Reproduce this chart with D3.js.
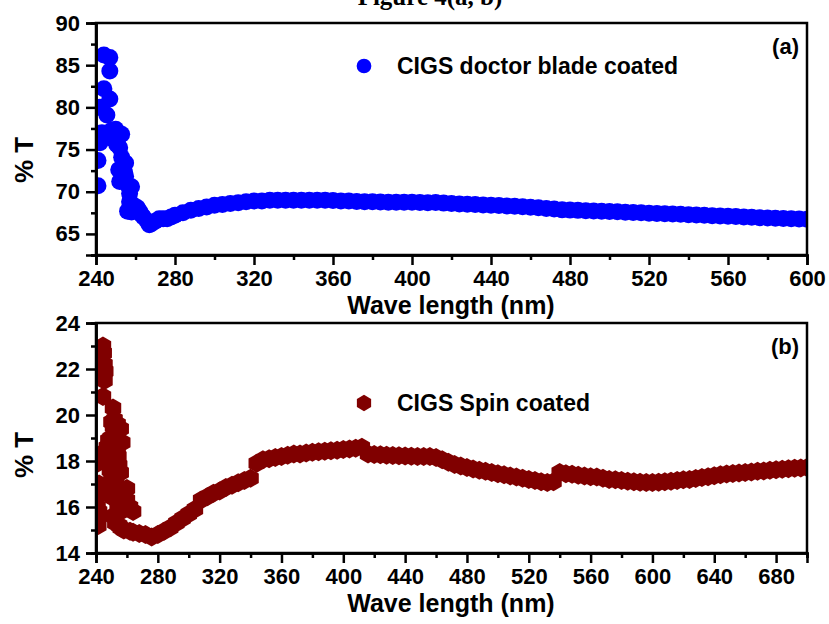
<!doctype html>
<html>
<head>
<meta charset="utf-8">
<script src="https://d3js.org/d3.v7.min.js"></script>
<style>
  body { margin: 0; background: #fff; }
  svg { display: block; font-family: "Liberation Sans", Arial, sans-serif; font-weight: bold; }
  .axis path, .axis line { stroke: #000; stroke-width: 2.5; }
  .axis text { font-size: 22px; font-weight: bold; fill: #000; font-family: "Liberation Sans", Arial, sans-serif; }
</style>
</head>
<body>
<div class="graph"></div>
<script>
// ---- data ----
// (a) CIGS doctor blade coated
var topWl = [241, 241, 242, 243, 242, 244, 244, 247, 247, 247, 245.5, 248, 250, 251, 252, 253, 254, 252, 255, 256, 257, 257, 256, 258, 260, 262, 264, 266, 267, 268, 270, 272, 274, 276, 278, 280,
  249, 250.5, 253, 254.5, 251.5, 255, 258, 259, 261, 263,
  284, 288, 292, 296, 300, 304, 308, 312, 316, 320, 324, 328, 332, 336, 340, 344, 348, 352, 356, 360, 364, 368, 372, 376, 380, 384, 388, 392, 396, 400,
  404, 408, 412, 416, 420, 424, 428, 432, 436, 440, 444, 448, 452, 456, 460, 464, 468, 472, 476, 480, 484, 488, 492, 496, 500,
  504, 508, 512, 516, 520, 524, 528, 532, 536, 540, 544, 548, 552, 556, 560, 564, 568, 572, 576, 580, 584, 588, 592, 596, 600];
var topT = [70.7, 73.7, 75.8, 77.0, 80.0, 82.2, 86.2, 85.9, 84.3, 81.0, 79.1, 77.3, 77.4, 76.3, 75.2, 74.1, 73.0, 71.2, 71.8, 70.8, 69.8, 68.8, 67.7, 67.6, 67.8, 67.7, 67.0, 66.5, 66.1, 66.2, 66.5, 66.8, 66.8, 66.8, 67.0, 67.2,
  76.2, 75.6, 76.8, 72.3, 72.6, 73.4, 70.6, 68.4, 68.1, 67.3,
  67.5, 67.8, 68.0, 68.2, 68.4, 68.5, 68.6, 68.7, 68.8, 68.9, 68.9, 69.0, 69.0, 69.0, 69.0, 69.0, 69.0, 69.0, 69.0, 68.95, 68.9, 68.9, 68.85, 68.8, 68.8, 68.78, 68.76, 68.75, 68.75, 68.75,
  68.72, 68.7, 68.72, 68.65, 68.6, 68.56, 68.52, 68.48, 68.44, 68.4, 68.36, 68.32, 68.27, 68.22, 68.16, 68.1, 68.02, 67.94, 67.85, 67.82, 67.79, 67.75, 67.72, 67.69, 67.65,
  67.62, 67.58, 67.55, 67.5, 67.46, 67.43, 67.4, 67.36, 67.32, 67.28, 67.24, 67.2, 67.16, 67.12, 67.09, 67.05, 67.01, 66.97, 66.93, 66.9, 66.86, 66.82, 66.79, 66.76, 66.73];

// (b) CIGS Spin coated
var botWl = [244.5, 245, 245.5, 246, 245.5, 244.5, 251, 250, 251, 252, 253, 254, 254.5, 256, 242, 241, 241, 241, 241, 243, 248, 249, 250, 252, 253.5, 257, 260, 262, 264, 251, 252.5, 255, 256, 258, 262, 264, 268, 272, 276,
  247, 248, 250, 252, 255, 256, 253, 251, 254, 256, 258, 260, 242, 243, 242, 242, 242, 241.5, 249.5, 252, 254, 257,
  280, 284, 288, 292, 296, 300, 304, 308, 312, 316, 320, 324, 328, 332, 336, 340, 344, 348, 352, 356, 360, 364, 368, 372, 376, 380, 384, 388, 392, 396, 400,
  404, 408, 412, 416, 420, 424, 428, 432, 436, 440, 444, 448, 452, 456, 460, 464, 468, 472, 476, 480, 484, 488, 492, 496, 500,
  504, 508, 512, 516, 520, 524, 528, 532, 536, 540, 544, 548, 552, 556, 560, 564, 568, 572, 576, 580, 584, 588, 592, 596, 600,
  604, 608, 612, 616, 620, 624, 628, 632, 636, 640, 644, 648, 652, 656, 660, 664, 668, 672, 676, 680, 684, 688, 692, 696, 700];
var botT = [23.0, 22.7, 22.2, 21.9, 21.5, 20.8, 20.3, 19.7, 19.5, 19.2, 18.9, 18.5, 18.2, 19.4, 18.2, 17.9, 16.8, 16.0, 15.4, 16.8, 18.0, 17.6, 17.3, 16.8, 16.5, 16.6, 16.3, 16.0, 15.8, 15.6, 15.3, 15.2, 15.1, 15.0, 14.95, 14.9, 14.85, 14.8, 14.7,
  18.6, 18.9, 18.5, 18.0, 17.8, 17.5, 17.0, 16.4, 16.0, 15.8, 16.4, 16.8, 18.0, 18.3, 17.0, 16.5, 15.8, 15.2, 19.0, 19.8, 19.6, 18.8,
  14.8, 14.95, 15.1, 15.3, 15.5, 15.7, 15.9, 16.3, 16.45, 16.6, 16.7, 16.85, 16.95, 17.05, 17.15, 17.25, 17.9, 18.05, 18.1, 18.15, 18.2, 18.25, 18.3, 18.3, 18.35, 18.38, 18.4, 18.42, 18.45, 18.47, 18.5,
  18.52, 18.55, 18.6, 18.3, 18.28, 18.27, 18.25, 18.24, 18.23, 18.22, 18.21, 18.2, 18.2, 18.2, 18.15, 18.05, 17.95, 17.85, 17.78, 17.72, 17.65, 17.6, 17.55, 17.5, 17.45,
  17.4, 17.35, 17.3, 17.25, 17.2, 17.15, 17.1, 17.07, 17.1, 17.5, 17.45, 17.42, 17.38, 17.35, 17.32, 17.3, 17.25, 17.2, 17.18, 17.15, 17.12, 17.1, 17.08, 17.06, 17.06,
  17.08, 17.1, 17.12, 17.15, 17.18, 17.2, 17.24, 17.28, 17.32, 17.36, 17.4, 17.43, 17.46, 17.48, 17.5, 17.52, 17.55, 17.57, 17.6, 17.62, 17.64, 17.66, 17.68, 17.7, 17.72];

var topXTicks = [240, 280, 320, 360, 400, 440, 480, 520, 560, 600];
var topYTicks = [65, 70, 75, 80, 85, 90];
var botXTicks = [240, 280, 320, 360, 400, 440, 480, 520, 560, 600, 640, 680];
var botYTicks = [14, 16, 18, 20, 22, 24];

var width = 829, height = 624;

var svg = d3.select('.graph').append('svg')
  .attr('width', width)
  .attr('height', height);

// caption, cut off at the top of the picture
svg.append('text')
  .attr('x', 430).attr('y', 5)
  .attr('text-anchor', 'middle')
  .style('font-family', '"Liberation Serif", "Times New Roman", serif')
  .style('font-size', '25px')
  .text('Figure 4(a, b)');

// hexagon symbol (pointy top)
var hexagon = {
  draw: function(ctx, size) {
    var r = Math.sqrt(size * 2 / (3 * Math.sqrt(3)));
    for (var k = 0; k < 6; k++) {
      var a = Math.PI / 3 * k - Math.PI / 2;
      if (k === 0) ctx.moveTo(r * Math.cos(a), r * Math.sin(a));
      else ctx.lineTo(r * Math.cos(a), r * Math.sin(a));
    }
    ctx.closePath();
  }
};

function panel(o) {
  var x = d3.scaleLinear().domain(o.xDomain).range([96, 807]);
  var y = d3.scaleLinear().domain(o.yDomain).range([o.bottom, o.top]);

  var g = svg.append('g');

  g.append('clipPath').attr('id', o.id)
    .append('rect')
    .attr('x', x.range()[0]).attr('y', o.top)
    .attr('width', x.range()[1] - x.range()[0])
    .attr('height', o.bottom - o.top);

  // markers
  var pts = o.wl.map(function(w, i) { return [w, o.val[i]]; });
  var sym = d3.symbol().type(o.shape).size(o.size);
  g.append('g').attr('clip-path', 'url(#' + o.id + ')')
    .selectAll('path')
    .data(pts)
    .enter()
    .append('path')
    .attr('d', sym)
    .attr('transform', function(d) { return 'translate(' + x(d[0]) + ',' + y(d[1]) + ')'; })
    .style('fill', o.color);

  // frame
  g.append('rect')
    .attr('x', x.range()[0]).attr('y', o.top)
    .attr('width', x.range()[1] - x.range()[0])
    .attr('height', o.bottom - o.top)
    .style('fill', 'none').style('stroke', '#000').style('stroke-width', 2.5);

  // minor ticks
  g.append('g').attr('class', 'axis')
    .attr('transform', 'translate(0,' + o.bottom + ')')
    .call(d3.axisBottom(x).tickValues(o.xMinor).tickSize(5).tickFormat(''));
  g.append('g').attr('class', 'axis')
    .attr('transform', 'translate(' + x.range()[0] + ',0)')
    .call(d3.axisLeft(y).tickValues(o.yMinor).tickSize(5).tickFormat(''));

  // major ticks
  g.append('g').attr('class', 'axis')
    .attr('transform', 'translate(0,' + o.bottom + ')')
    .call(d3.axisBottom(x).tickValues(o.xTicks).tickSize(10).tickPadding(5).tickFormat(d3.format('d')));
  g.append('g').attr('class', 'axis')
    .attr('transform', 'translate(' + x.range()[0] + ',0)')
    .call(d3.axisLeft(y).tickValues(o.yTicks).tickSize(10).tickPadding(6).tickFormat(d3.format('d')));

  // axis titles
  g.append('text')
    .attr('x', 451).attr('y', o.bottom + 59)
    .attr('text-anchor', 'middle')
    .style('font-size', '25px')
    .text('Wave length (nm)');
  g.append('text')
    .attr('transform', 'translate(33,' + o.yTitle + ') rotate(-90)')
    .attr('text-anchor', 'middle')
    .style('font-size', '26px')
    .text('% T');

  // panel letter
  g.append('text')
    .attr('x', 799).attr('y', o.top + 31)
    .attr('text-anchor', 'end')
    .style('font-size', '22px')
    .text(o.letter);

  // legend
  g.append('path')
    .attr('d', d3.symbol().type(o.shape).size(o.size * 0.75))
    .attr('transform', 'translate(364,' + o.legY + ')')
    .style('fill', o.color);
  g.append('text')
    .attr('x', 397).attr('y', o.legY + 8)
    .style('font-size', '23px')
    .text(o.label);
}

panel({
  id: 'clipA', top: 23, bottom: 255,
  xDomain: [240, 600], yDomain: [62.5, 90],
  xTicks: topXTicks, yTicks: topYTicks,
  xMinor: [260, 300, 340, 380, 420, 460, 500, 540, 580],
  yMinor: [62.5, 67.5, 72.5, 77.5, 82.5, 87.5],
  wl: topWl, val: topT, color: '#0000ff',
  shape: d3.symbolCircle, size: Math.PI * 8.5 * 8.5,
  letter: '(a)', label: 'CIGS doctor blade coated', legY: 66, yTitle: 160
});

panel({
  id: 'clipB', top: 323, bottom: 553,
  xDomain: [240, 700], yDomain: [14, 24],
  xTicks: botXTicks, yTicks: botYTicks,
  xMinor: [260, 300, 340, 380, 420, 460, 500, 540, 580, 620, 660, 700],
  yMinor: [15, 17, 19, 21, 23],
  wl: botWl, val: botT, color: '#800000',
  shape: hexagon, size: 3 * Math.sqrt(3) / 2 * 9.5 * 9.5,
  letter: '(b)', label: 'CIGS Spin coated', legY: 403, yTitle: 455
});
</script>
</body>
</html>
